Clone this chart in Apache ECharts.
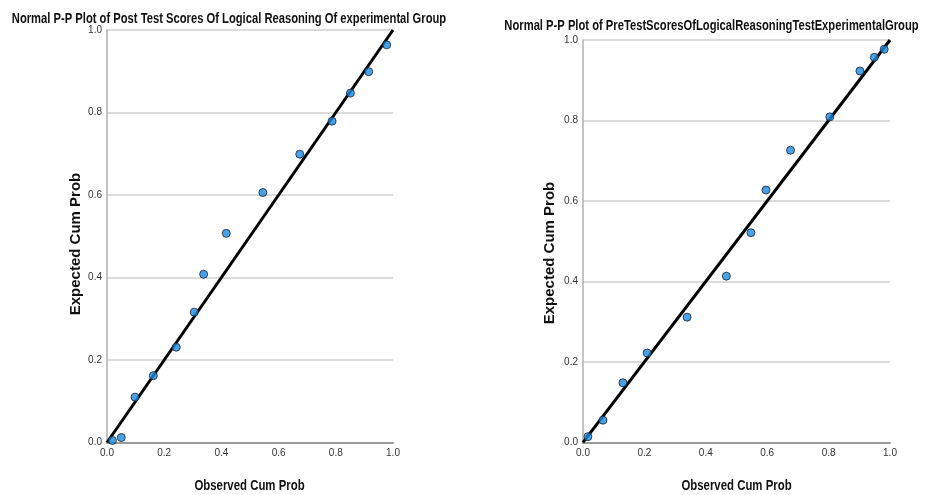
<!DOCTYPE html>
<html><head><meta charset="utf-8">
<script src="https://cdn.jsdelivr.net/npm/echarts@6/dist/echarts.min.js"></script>
<style>html,body{margin:0;padding:0;background:#fff}#c{width:944px;height:495px}</style>
</head><body><div id="c"></div>
<script>
const titles = ["Normal P-P Plot of Post Test Scores Of Logical Reasoning Of experimental Group",
                "Normal P-P Plot of PreTestScoresOfLogicalReasoningTestExperimentalGroup"];
const xName = "Observed Cum Prob";
const yName = "Expected Cum Prob";
const fitLine = [0, 1];
const postObserved = [0.019, 0.050, 0.098, 0.162, 0.242, 0.305, 0.338, 0.417, 0.545, 0.674, 0.787, 0.851, 0.915, 0.978];
const postExpected = [0.005, 0.012, 0.110, 0.162, 0.231, 0.316, 0.408, 0.507, 0.606, 0.699, 0.779, 0.847, 0.899, 0.964];
const preObserved = [0.016, 0.065, 0.130, 0.209, 0.339, 0.467, 0.547, 0.596, 0.676, 0.804, 0.902, 0.949, 0.981];
const preExpected = [0.014, 0.055, 0.148, 0.222, 0.311, 0.413, 0.521, 0.627, 0.726, 0.809, 0.923, 0.957, 0.977];

const font = "'Liberation Sans','Arial',sans-serif";
const grids = [
  {left: 107, top: 30, width: 286, height: 412.5},
  {left: 583, top: 40, width: 307, height: 402.3}
];
function xAxis(i){
  return {type:'value', gridIndex:i, min:0, max:1, interval:0.2,
    axisLine:{show:true, lineStyle:{color:'#9a9a9a', width:2}},
    axisTick:{show:false}, splitLine:{show:false},
    axisLabel:{fontFamily:font, fontSize:10, color:'#333', margin:6, formatter:v=>v.toFixed(1)}};
}
function yAxis(i){
  return {type:'value', gridIndex:i, min:0, max:1, interval:0.2,
    axisLine:{show:true, lineStyle:{color:'#b0b0b0', width:1.5}},
    axisTick:{show:false},
    splitLine:{show:true, lineStyle:{color:'#cfcfcf', width:1.5}},
    axisLabel:{fontFamily:font, fontSize:10, color:'#333', margin:5, formatter:v=>v.toFixed(1)}};
}
function txt(text, x, y, opts){
  return Object.assign({type:'text', x:x, y:y, silent:true,
    style:{text:text, font:'bold 15px ' + font, fill:'#111', textAlign:'center', textVerticalAlign:'middle'}}, opts||{});
}
function pts(xs, ys){ return xs.map((x,k)=>[x, ys[k]]); }
const markerStyle = {color:'#1b8be0', borderColor:'#1a2233', borderWidth:1};
const chart = echarts.init(document.getElementById('c'), null, {renderer:'canvas'});
chart.setOption({
  animation:false,
  graphic:[
    txt(titles[0], 229, 18.5, {scaleX:0.747}),
    txt(titles[1], 711.5, 26, {scaleX:0.747}),
    txt(xName, 249.5, 486, {scaleX:0.76}),
    txt(xName, 736.5, 486, {scaleX:0.76}),
    txt(yName, 76, 244, {rotation:Math.PI/2}),
    txt(yName, 550, 253, {rotation:Math.PI/2})
  ],
  grid: grids,
  xAxis:[xAxis(0), xAxis(1)],
  yAxis:[yAxis(0), yAxis(1)],
  series:[
    {type:'line', xAxisIndex:0, yAxisIndex:0, data:pts(fitLine, fitLine), symbol:'none', lineStyle:{color:'#000', width:3}, z:3},
    {type:'scatter', xAxisIndex:0, yAxisIndex:0, data:pts(postObserved, postExpected), symbol:'circle', symbolSize:8, itemStyle:markerStyle, z:4},
    {type:'line', xAxisIndex:1, yAxisIndex:1, data:pts(fitLine, fitLine), symbol:'none', lineStyle:{color:'#000', width:3}, z:3},
    {type:'scatter', xAxisIndex:1, yAxisIndex:1, data:pts(preObserved, preExpected), symbol:'circle', symbolSize:8, itemStyle:markerStyle, z:4}
  ]
});
</script></body></html>
